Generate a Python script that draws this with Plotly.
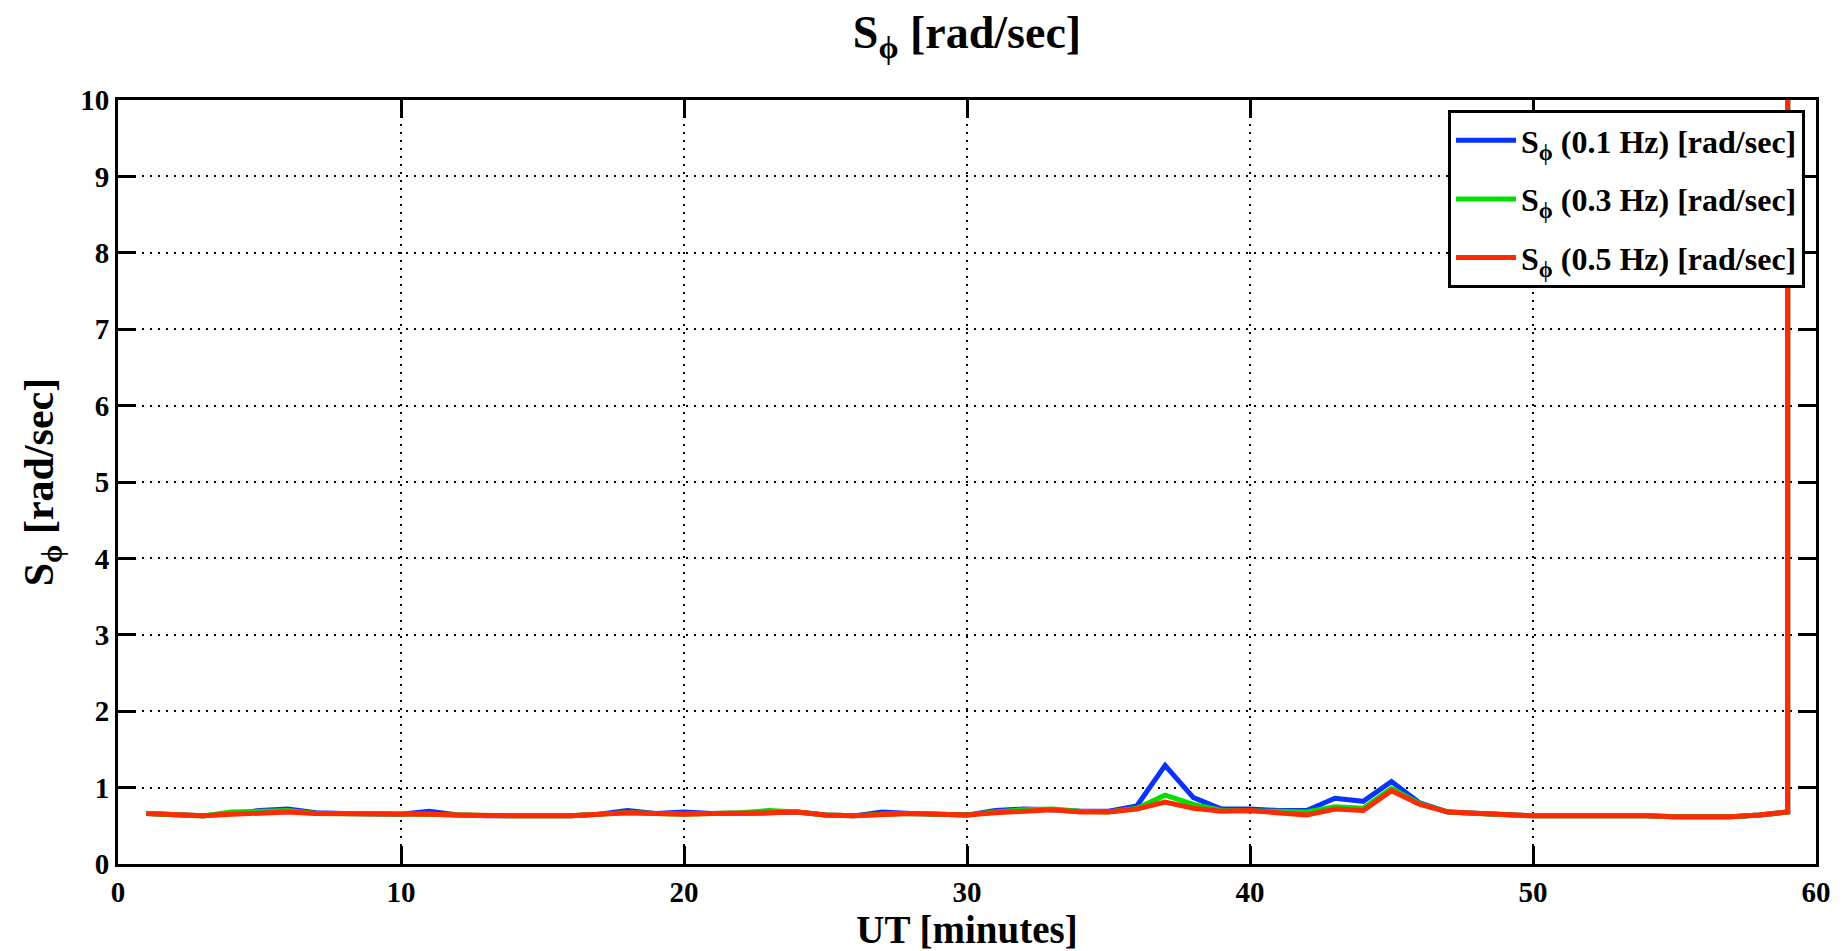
import plotly.graph_objects as go

minutes = list(range(1, 61))

s_red = [0.66, 0.65, 0.63, 0.65, 0.66, 0.68, 0.66, 0.66, 0.65, 0.65,
         0.65, 0.64, 0.63, 0.63, 0.63, 0.63, 0.65, 0.67, 0.66, 0.65,
         0.66, 0.66, 0.67, 0.68, 0.64, 0.63, 0.65, 0.66, 0.65, 0.64,
         0.67, 0.69, 0.71, 0.68, 0.68, 0.72, 0.81, 0.73, 0.69, 0.70,
         0.67, 0.64, 0.72, 0.70, 0.96, 0.78, 0.68, 0.66, 0.64, 0.63,
         0.63, 0.63, 0.64, 0.63, 0.62, 0.62, 0.62, 0.64, 0.68, 10000.0]

s_green = [0.66, 0.65, 0.63, 0.68, 0.69, 0.70, 0.66, 0.66, 0.65, 0.65,
           0.65, 0.64, 0.63, 0.63, 0.63, 0.63, 0.65, 0.67, 0.66, 0.65,
           0.66, 0.67, 0.70, 0.68, 0.64, 0.63, 0.65, 0.66, 0.65, 0.64,
           0.68, 0.71, 0.72, 0.69, 0.68, 0.73, 0.90, 0.78, 0.70, 0.70,
           0.69, 0.68, 0.75, 0.73, 0.99, 0.79, 0.68, 0.66, 0.64, 0.63,
           0.63, 0.63, 0.64, 0.63, 0.62, 0.62, 0.62, 0.64, 0.68, 10000.0]

s_blue = [0.66, 0.65, 0.63, 0.66, 0.70, 0.72, 0.67, 0.66, 0.65, 0.65,
          0.69, 0.64, 0.63, 0.63, 0.63, 0.63, 0.65, 0.70, 0.66, 0.68,
          0.66, 0.66, 0.67, 0.68, 0.64, 0.63, 0.68, 0.66, 0.65, 0.64,
          0.70, 0.72, 0.71, 0.69, 0.69, 0.76, 1.29, 0.87, 0.72, 0.72,
          0.70, 0.70, 0.86, 0.82, 1.08, 0.80, 0.68, 0.66, 0.64, 0.63,
          0.63, 0.63, 0.64, 0.63, 0.62, 0.62, 0.62, 0.64, 0.68, 10000.0]

series = [
    ("S<sub>ϕ</sub> (0.1 Hz) [rad/sec]", s_blue, "#0a32ff"),
    ("S<sub>ϕ</sub> (0.3 Hz) [rad/sec]", s_green, "#00e000"),
    ("S<sub>ϕ</sub> (0.5 Hz) [rad/sec]", s_red, "#ff2a00"),
]

FONT = "Liberation Serif"

fig = go.Figure()
for i, (name, vals, col) in enumerate(series):
    fig.add_trace(go.Scatter(
        x=minutes, y=vals, mode="lines", name=name,
        line=dict(color=col, width=5),
        legendgroup=f"g{i}",
    ))

axis_common = dict(
    showline=True, linecolor="black", linewidth=3, mirror="ticks",
    ticks="inside", ticklen=18, tickwidth=3, tickcolor="black",
    showgrid=True, gridcolor="black", griddash="2px,6px", gridwidth=2,
    zeroline=False, automargin=False,
    tickfont=dict(family=FONT, size=29, color="black", weight="bold"),
)

fig.update_layout(
    width=1843, height=951,
    paper_bgcolor="white", plot_bgcolor="white",
    margin=dict(l=110, r=35, t=92, b=95),
    title=dict(
        text="S<sub>ϕ</sub> [rad/sec]",
        x=(110 + 1808) / 2 / 1843, xanchor="center",
        y=1 - 24 / 951, yanchor="middle",
        font=dict(family=FONT, size=46, color="black", weight="bold"),
    ),
    xaxis=dict(range=[0, 60], dtick=10, tick0=0,
               title=dict(text="UT [minutes]", standoff=4,
                          font=dict(family=FONT, size=39, color="black", weight="bold")),
               **axis_common),
    yaxis=dict(range=[0, 10], dtick=1, tick0=0,
               title=dict(text="S<sub>ϕ</sub> [rad/sec]", standoff=14,
                          font=dict(family=FONT, size=42, color="black", weight="bold")),
               **axis_common),
    legend=dict(
        x=(1440 - 110) / 1698, y=(856 - 102) / 764, xanchor="left", yanchor="top",
        bgcolor="white", bordercolor="black", borderwidth=3,
        font=dict(family=FONT, size=32, color="black", weight="bold"),
        traceorder="grouped", tracegroupgap=14,
        itemwidth=60,
    ),
    showlegend=True,
)

fig.write_html("out.html")
